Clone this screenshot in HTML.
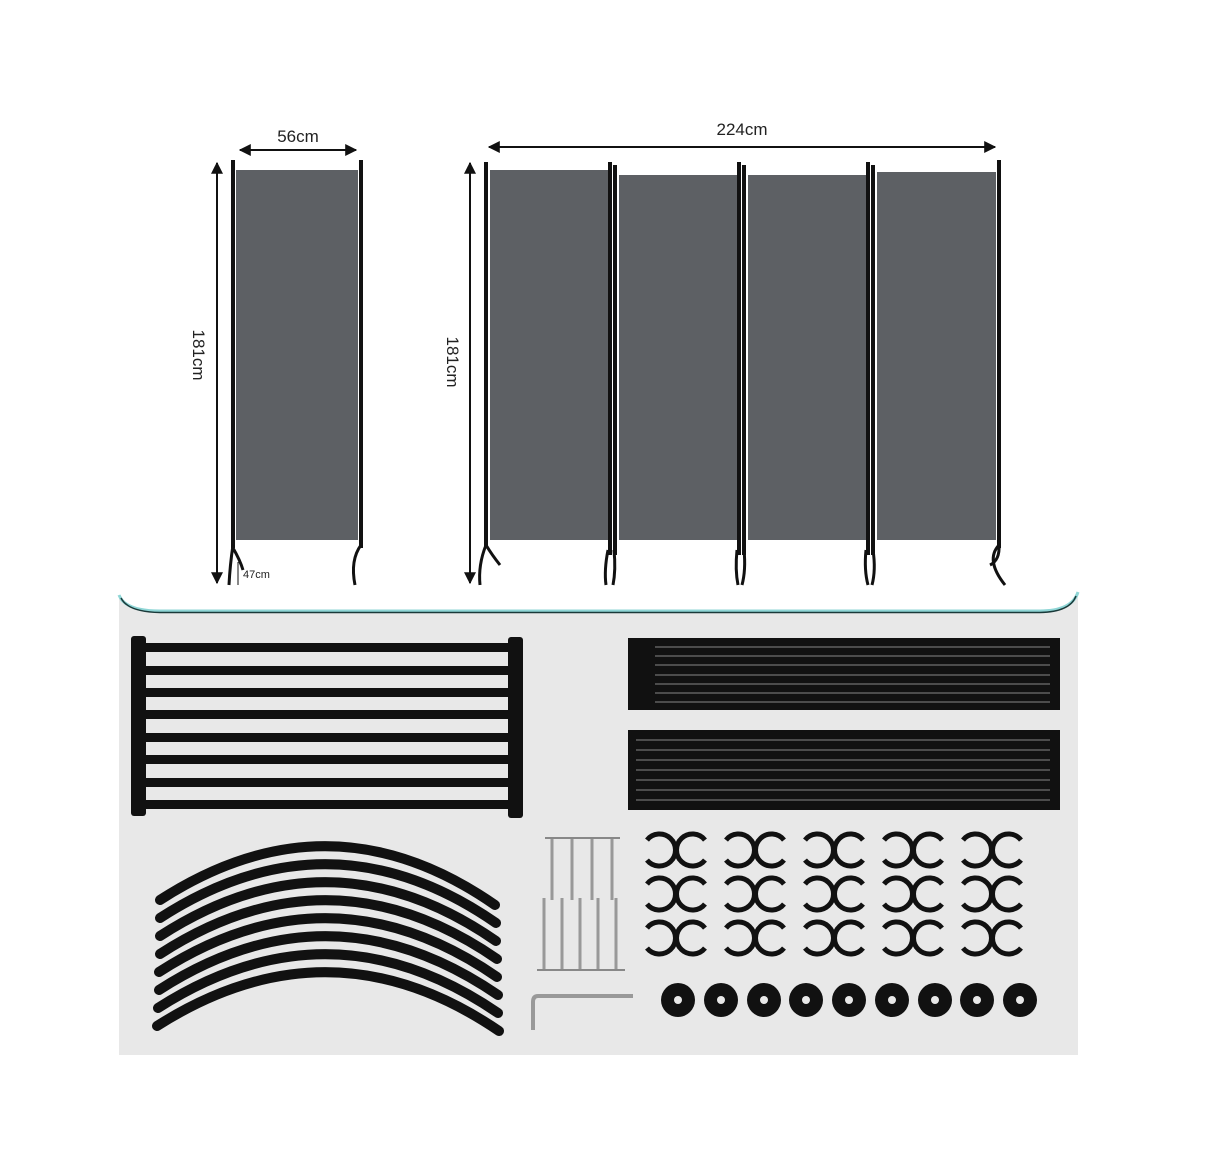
<!DOCTYPE html>
<html><head><meta charset="utf-8"><style>
html,body{margin:0;padding:0;background:#fff;}
svg{display:block}
text{font-family:"Liberation Sans",sans-serif;fill:#222}
</style></head><body>
<svg width="1206" height="1156" viewBox="0 0 1206 1156" xmlns="http://www.w3.org/2000/svg">
<defs>
<marker id="ah" viewBox="0 0 10 10" refX="9" refY="5" markerWidth="6" markerHeight="6" orient="auto-start-reverse"><path d="M0,0 L10,5 L0,10 z" fill="#111"/></marker>
</defs>
<!-- single panel -->
<rect x="236" y="170" width="122" height="370" fill="#5d6064"/>
<line x1="233" y1="160" x2="233" y2="548" stroke="#111" stroke-width="4"/>
<line x1="361" y1="160" x2="361" y2="548" stroke="#111" stroke-width="4"/>
<path d="M233,545 Q230,565 229,585 M233,548 Q240,560 243,570" stroke="#111" stroke-width="3" fill="none"/>
<path d="M361,545 Q350,560 355,585" stroke="#111" stroke-width="3" fill="none"/>
<line x1="240" y1="150" x2="356" y2="150" stroke="#111" stroke-width="2" marker-start="url(#ah)" marker-end="url(#ah)"/>
<text x="298" y="142" font-size="17" text-anchor="middle">56cm</text>
<line x1="217" y1="163" x2="217" y2="583" stroke="#111" stroke-width="2" marker-start="url(#ah)" marker-end="url(#ah)"/>
<text x="0" y="0" font-size="17" text-anchor="middle" transform="translate(193,355) rotate(90)">181cm</text>
<line x1="238" y1="562" x2="238" y2="585" stroke="#111" stroke-width="1"/>
<text x="243" y="578" font-size="11">47cm</text>
<!-- four panel -->
<g fill="#5d6064">
<rect x="490" y="170" width="118" height="370"/>
<rect x="619" y="175" width="119" height="365"/>
<rect x="748" y="175" width="118" height="365"/>
<rect x="877" y="172" width="119" height="368"/>
</g>
<g stroke="#111" stroke-width="4">
<line x1="486" y1="162" x2="486" y2="548"/>
<line x1="610" y1="162" x2="610" y2="555"/><line x1="615" y1="165" x2="615" y2="555"/>
<line x1="739" y1="162" x2="739" y2="555"/><line x1="744" y1="165" x2="744" y2="555"/>
<line x1="868" y1="162" x2="868" y2="555"/><line x1="873" y1="165" x2="873" y2="555"/>
<line x1="999" y1="160" x2="999" y2="548"/>
</g>
<g stroke="#111" stroke-width="3" fill="none">
<path d="M486,545 Q478,565 480,585 M486,545 Q492,555 500,565"/>
<path d="M608,550 Q604,570 606,585 M614,550 Q616,570 613,585"/>
<path d="M737,550 Q735,570 738,585 M744,550 Q746,570 742,585"/>
<path d="M866,550 Q864,570 868,585 M873,550 Q876,570 872,585"/>
<path d="M999,545 Q985,560 1005,585 M999,545 Q1000,560 990,565"/>
</g>
<line x1="489" y1="147" x2="995" y2="147" stroke="#111" stroke-width="2" marker-start="url(#ah)" marker-end="url(#ah)"/>
<text x="742" y="135" font-size="17" text-anchor="middle">224cm</text>
<line x1="470" y1="163" x2="470" y2="583" stroke="#111" stroke-width="2" marker-start="url(#ah)" marker-end="url(#ah)"/>
<text x="0" y="0" font-size="17" text-anchor="middle" transform="translate(447,362) rotate(90)">181cm</text>
<!-- bottom gray region -->
<path d="M119,595 Q125,611 160,611 L1040,611 Q1072,611 1078,592 L1078,1055 L119,1055 z" fill="#e8e8e8"/>
<path d="M119,595 Q125,611 160,611 L1040,611 Q1072,611 1078,592" fill="none" stroke="#8fd6d6" stroke-width="3"/>
<path d="M121,598 Q128,612 160,612.5 L1040,612.5 Q1070,612 1076,596" fill="none" stroke="#1a3a3a" stroke-width="1.5"/>
<!-- rack -->
<g fill="#111">
<rect x="131" y="636" width="15" height="180" rx="3"/>
<rect x="508" y="637" width="15" height="181" rx="3"/>
<rect x="145" y="643" width="365" height="9"/>
<rect x="145" y="666" width="365" height="9"/>
<rect x="145" y="688" width="365" height="9"/>
<rect x="145" y="710" width="365" height="9"/>
<rect x="145" y="733" width="365" height="9"/>
<rect x="145" y="755" width="365" height="9"/>
<rect x="145" y="778" width="365" height="9"/>
<rect x="145" y="800" width="365" height="9"/>
</g>
<!-- rods -->
<rect x="628" y="638" width="432" height="72" fill="#111"/>
<g stroke="#888" stroke-width="1">
<line x1="655" y1="647" x2="1050" y2="647"/><line x1="655" y1="656" x2="1050" y2="656"/><line x1="655" y1="665" x2="1050" y2="665"/><line x1="655" y1="675" x2="1050" y2="675"/><line x1="655" y1="684" x2="1050" y2="684"/><line x1="655" y1="693" x2="1050" y2="693"/><line x1="655" y1="702" x2="1050" y2="702"/>
</g>
<rect x="628" y="730" width="432" height="80" fill="#111"/>
<g stroke="#888" stroke-width="1">
<line x1="636" y1="740" x2="1050" y2="740"/><line x1="636" y1="750" x2="1050" y2="750"/><line x1="636" y1="760" x2="1050" y2="760"/><line x1="636" y1="770" x2="1050" y2="770"/><line x1="636" y1="780" x2="1050" y2="780"/><line x1="636" y1="790" x2="1050" y2="790"/><line x1="636" y1="800" x2="1050" y2="800"/>
</g>
<!-- arcs -->
<g stroke="#111" stroke-width="10" fill="none" stroke-linecap="round">
<path d="M160,900 Q330,790 495,905"/>
<path d="M160,918 Q330,808 496,923"/>
<path d="M160,936 Q330,826 496,941"/>
<path d="M160,954 Q330,844 497,959"/>
<path d="M159,972 Q330,862 497,977"/>
<path d="M159,990 Q330,880 498,995"/>
<path d="M158,1008 Q330,898 498,1013"/>
<path d="M157,1026 Q330,916 499,1031"/>
</g>
<!-- screws -->
<g stroke="#999" stroke-width="3">
<line x1="552" y1="838" x2="552" y2="900"/><line x1="572" y1="838" x2="572" y2="900"/><line x1="592" y1="838" x2="592" y2="900"/><line x1="612" y1="838" x2="612" y2="900"/>
<line x1="544" y1="898" x2="544" y2="970"/><line x1="562" y1="898" x2="562" y2="970"/><line x1="580" y1="898" x2="580" y2="970"/><line x1="598" y1="898" x2="598" y2="970"/><line x1="616" y1="898" x2="616" y2="970"/>
</g>
<g stroke="#888" stroke-width="2">
<line x1="545" y1="838" x2="620" y2="838"/><line x1="537" y1="970" x2="625" y2="970"/>
</g>
<path d="M633,996 L538,996 Q533,996 533,1002 L533,1030" stroke="#999" stroke-width="4" fill="none"/>
<!-- clips -->
<g stroke="#111" stroke-width="5" fill="none">
<path id="c" d="M647,840 A16,16 0 1 1 647,860 M705,840 A16,16 0 1 0 705,860"/>
<use href="#c" x="79"/><use href="#c" x="158"/><use href="#c" x="237"/><use href="#c" x="316"/>
<use href="#c" y="44"/><use href="#c" x="79" y="44"/><use href="#c" x="158" y="44"/><use href="#c" x="237" y="44"/><use href="#c" x="316" y="44"/>
<use href="#c" y="88"/><use href="#c" x="79" y="88"/><use href="#c" x="158" y="88"/><use href="#c" x="237" y="88"/><use href="#c" x="316" y="88"/>
</g>
<!-- washers -->
<g fill="#111">
<circle cx="678" cy="1000" r="17"/><circle cx="721" cy="1000" r="17"/><circle cx="764" cy="1000" r="17"/><circle cx="806" cy="1000" r="17"/><circle cx="849" cy="1000" r="17"/><circle cx="892" cy="1000" r="17"/><circle cx="935" cy="1000" r="17"/><circle cx="977" cy="1000" r="17"/><circle cx="1020" cy="1000" r="17"/>
</g>
<g fill="#e8e8e8">
<circle cx="678" cy="1000" r="4"/><circle cx="721" cy="1000" r="4"/><circle cx="764" cy="1000" r="4"/><circle cx="806" cy="1000" r="4"/><circle cx="849" cy="1000" r="4"/><circle cx="892" cy="1000" r="4"/><circle cx="935" cy="1000" r="4"/><circle cx="977" cy="1000" r="4"/><circle cx="1020" cy="1000" r="4"/>
</g>
</svg>
</body></html>
